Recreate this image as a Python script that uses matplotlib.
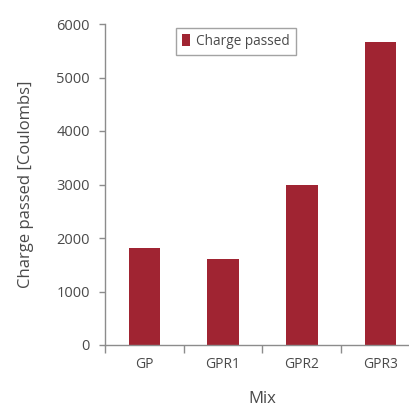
import matplotlib.pyplot as plt
import numpy as np

mixes = ['GP', 'GPR1', 'GPR2', 'GPR3']
charge = [1815, 1600, 2985, 5670]
yticks = [0, 1000, 2000, 3000, 4000, 5000, 6000]

plt.rcParams['font.family'] = ['Open Sans', 'DejaVu Sans']
text_col = '#4a4a4a'
axis_col = '#8c8c8c'
bar_col = '#a02432'

fig = plt.figure(figsize=(4.1, 4.07), dpi=100)
ax = fig.add_axes([105 / 410, 62 / 407, 315 / 410, 321 / 407])

xs = np.arange(len(mixes))
ax.bar(xs, charge, width=0.4, color=bar_col, label='Charge passed', zorder=2)

ax.set_xlim(-0.5, 3.5)
ax.set_ylim(0, 6000)
ax.set_yticks(yticks)
ax.set_yticklabels([str(t) for t in yticks], fontsize=10.5, color=text_col)
ax.set_xticks(xs)
ax.set_xticklabels(mixes, fontsize=10, color=text_col)
ax.set_xticks(np.arange(-0.5, 3.0, 1.0), minor=True)
ax.tick_params(axis='x', which='major', length=0, pad=9)
ax.tick_params(axis='x', which='minor', length=6, width=1, color=axis_col, direction='out')
ax.tick_params(axis='y', length=4, width=1, color=axis_col, direction='out', pad=7)

for s in ['top', 'right']:
    ax.spines[s].set_visible(False)
for s in ['left', 'bottom']:
    ax.spines[s].set_color(axis_col)
    ax.spines[s].set_linewidth(1)

ax.set_ylabel('Charge passed [Coulombs]', fontsize=12, color=text_col, labelpad=16)
ax.set_xlabel('Mix', fontsize=12, color=text_col, labelpad=13)

leg = ax.legend(loc='upper center', bbox_to_anchor=(0.415, 1.01), fontsize=9.8,
                fancybox=False, edgecolor=axis_col, handlelength=0.6,
                handleheight=1.0, handletextpad=0.4, borderpad=0.45)
for t in leg.get_texts():
    t.set_color(text_col)

plt.savefig('out.png', dpi=100)
